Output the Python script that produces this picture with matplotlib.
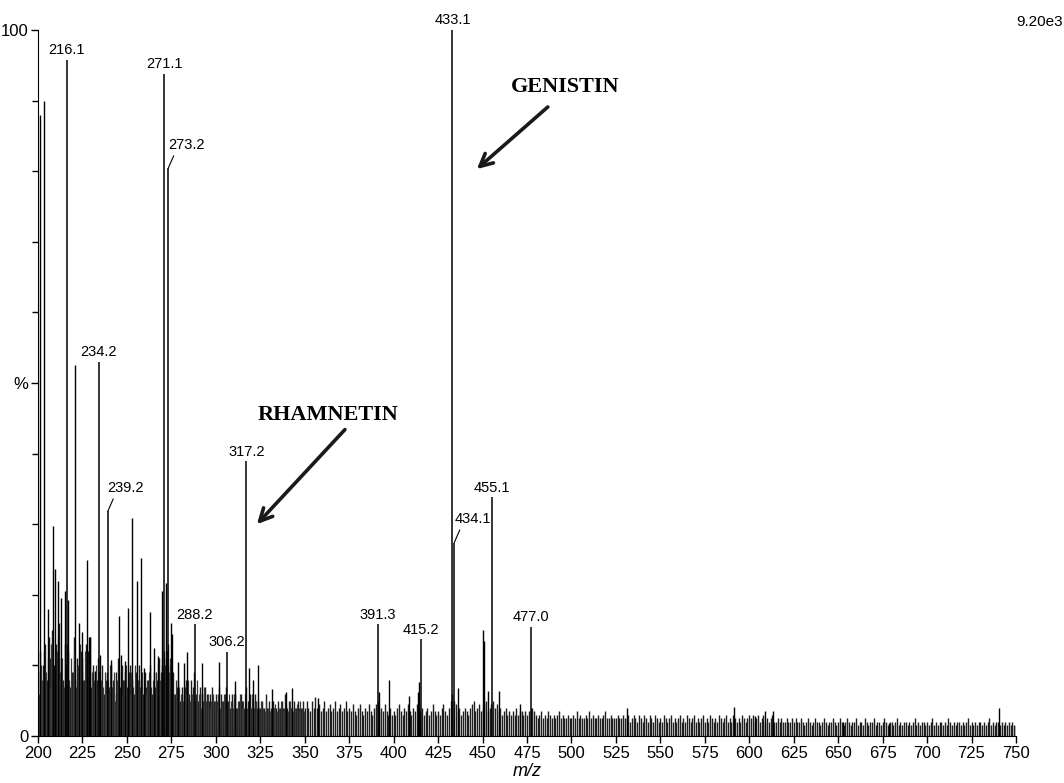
import matplotlib
matplotlib.use("Agg")
import matplotlib.pyplot as plt
import numpy as np

# labelled peaks (m/z, relative intensity %)
label_mz = [216.1, 234.2, 239.2, 271.1, 273.2, 288.2, 306.2, 317.2,
            391.3, 415.2, 433.1, 434.1, 455.1, 477.0]
label_int = [95.8, 53.0, 31.8, 93.8, 80.4, 15.8, 11.9, 38.9,
             15.8, 13.7, 100.0, 27.4, 33.8, 15.4]
# labels that sit beside the peak with a short leader line
leader_labels = ["239.2", "273.2", "434.1"]

# other visible peaks without labels
other_mz = [201.0, 203.3, 205.5, 208.6, 209.5, 211.2, 213.0, 215.0, 217.0,
            221.0, 223.0, 224.5, 227.6, 228.5, 229.5, 232.3, 235.0, 241.0,
            245.3, 246.5, 249.0, 250.8, 252.7, 255.6, 257.7, 259.5, 262.9,
            265.4, 267.6, 270.0, 272.0, 275.0, 275.6, 278.7, 282.0, 284.0,
            292.3, 302.0, 311.0, 318.5, 321.0, 324.0, 331.5, 339.5, 342.7,
            357.6, 392.0, 397.3, 408.5, 413.5, 414.5, 436.0, 450.1, 451.0,
            453.0, 459.2, 471.0, 531.0, 591.4, 603.4, 608.6, 613.3, 652.6,
            678.8, 740.6]
other_int = [88.0, 90.0, 18.0, 29.7, 23.6, 22.0, 19.6, 20.5, 19.3,
             52.6, 16.0, 14.8, 25.0, 14.0, 14.0, 9.2, 11.5, 10.8,
             17.0, 11.5, 10.6, 18.2, 30.9, 21.9, 25.2, 9.7, 17.5,
             12.5, 11.3, 20.5, 21.7, 16.0, 14.5, 10.5, 10.3, 11.9,
             10.3, 10.5, 7.8, 9.6, 7.9, 10.0, 6.6, 6.3, 6.8,
             5.4, 6.3, 8.0, 5.7, 6.2, 7.6, 6.8, 15.0, 13.5,
             6.4, 6.4, 4.6, 4.0, 4.1, 2.8, 3.6, 3.5, 2.0,
             1.9, 4.0]

# baseline "grass", one value per m/z unit from 200 to 750
noise_start = 200
noise_int = [
    9, 12, 7, 10, 13, 8, 14, 11, 15, 10, 13, 9, 16, 11, 8, 13, 10, 12, 7, 9, 14, 8, 11, 10, 12,
    11, 8, 13, 12, 14, 7, 10, 9, 8, 11, 7, 10, 6, 8, 9, 7, 10, 8, 6, 9, 11, 7, 10, 8, 9,
    7, 9, 10, 8, 6, 9, 7, 10, 8, 6, 9, 7, 8, 10, 6, 9, 7, 8, 11, 9, 10, 12, 11, 13, 10,
    8, 9, 6, 7, 8, 5, 7, 6, 8, 7, 6, 8, 7, 9, 6, 5, 7, 6, 5, 7, 6, 5, 6, 7, 5,
    6, 5, 7, 6, 5, 6, 7, 5, 4, 6, 5, 6, 4, 5, 6, 5, 4, 7, 5, 6, 4, 5, 6, 4, 5,
    4, 5, 4, 6, 4, 5, 4, 5, 4, 4, 5, 4, 5, 4, 6, 4, 5, 4, 4, 5, 4, 5, 4, 4, 5,
    4, 5, 4, 3.5, 5, 4, 5.5, 4, 4.5, 3.5, 4, 5, 3.5, 4, 4.5, 3.5, 4, 5, 3.5, 4, 4.5, 3.5, 4, 5, 3.5,
    4, 3.5, 4.5, 3.5, 3, 4, 4.5, 3.5, 3, 4, 3.5, 4.5, 3.5, 3, 4, 4.5, 5, 3.5, 4, 3.5, 4.5, 3.5, 3, 4, 3,
    3.5, 3, 4, 4.5, 3.5, 3, 4, 3.5, 4.5, 3.5, 3, 4, 3.5, 4.5, 5, 3.5, 4, 3, 3.5, 4, 3, 3.5, 4.5, 3.5, 3,
    3.5, 3, 4, 4.5, 3.5, 3, 4, 5, 6, 5, 4.5, 3.5, 4, 3, 3.5, 4, 3.5, 3, 4, 4.5, 5, 3.5, 4, 4.5, 3.5,
    4, 4.5, 5, 3.5, 4, 4.5, 5, 4, 4.5, 3.5, 4, 3, 3.5, 4, 3, 3.5, 3, 3.5, 3, 4, 3, 3.5, 3.5, 3, 3.5,
    3, 3.5, 4, 4, 3.5, 3, 2.5, 3, 3.5, 2.5, 3, 2.5, 3.5, 3, 2.5, 3, 2.5, 3, 3.5, 2.5, 3, 2.5, 2.5, 3, 2.5,
    2.5, 3, 2.5, 3.5, 2.5, 3, 2.5, 2.5, 3, 2.5, 3.5, 2.5, 3, 2.5, 2.5, 3, 2.5, 2.5, 3, 3.5, 2.5, 2.5, 3, 2.5, 2.5,
    2.5, 3, 2.5, 2.5, 3, 2.5, 2.5, 3, 2, 2.5, 3, 2.5, 2, 3, 2.5, 2, 3, 2.5, 2, 3, 2.5, 2, 3, 2.5, 2,
    2.5, 2, 3, 2.5, 2, 2.5, 3, 2, 2.5, 2, 2.5, 3, 2, 2.5, 2, 3, 2.5, 2, 2.5, 3, 2, 2.5, 2, 2.5, 3,
    2, 2.5, 2, 3, 2.5, 2, 2.5, 2, 3, 2.5, 2, 2.5, 3, 2, 2.5, 2, 3, 2.5, 2, 2.5, 2, 3, 2.5, 2, 2.5,
    3, 2.5, 3, 2, 2.5, 3, 2, 2.5, 3, 2, 2.5, 2, 2.5, 3, 2, 2, 2.5, 2, 2.5, 2, 2, 2.5, 2, 2, 2.5,
    2, 2.5, 2, 2, 2.5, 2, 1.5, 2, 2.5, 2, 1.5, 2, 2.5, 2, 2, 1.5, 2, 2.5, 2, 1.5, 2, 2, 2.5, 2, 1.5,
    2, 2.5, 2, 1.5, 2, 2.5, 2, 1.5, 2, 2, 2.5, 1.5, 2, 2, 1.5, 2.5, 2, 1.5, 2, 2, 2.5, 1.5, 2, 2, 1.5,
    2, 2.5, 2, 1.5, 2, 2, 1.5, 2, 2.5, 1.5, 2, 1.5, 2, 2, 1.5, 2, 1.5, 2, 2.5, 1.5, 2, 1.5, 2, 2, 1.5,
    2, 1.5, 2, 2.5, 1.5, 2, 1.5, 2, 2, 1.5, 2, 1.5, 2.5, 2, 1.5, 2, 1.5, 2, 2, 1.5, 2, 1.5, 2, 2.5, 1.5,
    2, 1.5, 2, 1.5, 2, 2, 1.5, 2, 1.5, 2, 2.5, 1.5, 2, 1.5, 2, 2, 1.5, 2, 1.5, 2, 1.5, 2, 1.5, 2, 1.5, 1.5,
]

# extra grass at the half-unit positions, 200.5 to 349.5 (dense low-mass region)
noise2_start = 200.5
noise2_int = [
    6, 10, 8, 12, 9, 11, 7, 13, 10, 8, 12, 14, 9, 11, 7, 10, 13, 8, 11, 9, 12, 7, 10, 13, 9,
    8, 12, 9, 11, 7, 9, 8, 10, 6, 9, 8, 7, 9, 6, 8, 10, 7, 9, 5, 8, 7, 9, 6, 8, 10,
    8, 6, 9, 7, 10, 6, 8, 7, 9, 7, 6, 8, 9, 7, 8, 6, 9, 10, 8, 11, 9, 10, 12, 9, 11,
    7, 6, 8, 5, 7, 6, 5, 7, 6, 8, 5, 6, 7, 5, 8, 6, 4, 6, 7, 5, 6, 4, 5, 6, 5,
    5, 6, 4, 5, 6, 4, 5, 6, 5, 4, 6, 4, 5, 6, 4, 5, 6, 4, 5, 4, 6, 4, 5, 5, 4,
    5, 4, 3.5, 5, 4, 3.5, 5, 4, 4.5, 3.5, 4, 5, 3.5, 4, 4.5, 3.5, 5, 4, 3.5, 4, 4.5, 3.5, 5, 4, 3.5,
]

x_ticks = [200, 225, 250, 275, 300, 325, 350, 375, 400, 425, 450, 475, 500,
           525, 550, 575, 600, 625, 650, 675, 700, 725, 750]
y_ticks = [0, 50, 100]
y_ticklabels = ["0", "%", "100"]

# compound annotations: (name, text position, arrow tail, arrow head) in data units
compounds = ["GENISTIN", "RHAMNETIN"]
compound_text = [(496.2, 91.9), (363.0, 45.5)]
compound_tail = [(486.7, 89.1), (372.6, 43.4)]
compound_head = [(446.8, 80.3), (323.1, 30.0)]

plt.rcParams["font.family"] = ["Liberation Sans", "DejaVu Sans"]

fig = plt.figure(figsize=(10.64, 7.83), dpi=100)
ax = fig.add_axes([38 / 1064, 47 / 783, 978 / 1064, 706 / 783])

noise_mz = noise_start + np.arange(len(noise_int))
noise2_mz = noise2_start + np.arange(len(noise2_int))
ax.vlines(noise_mz, 0, noise_int, color="#1e1e1e", lw=1.0)
ax.vlines(noise2_mz, 0, noise2_int, color="#3a3a3a", lw=0.9)
ax.vlines(other_mz, 0, other_int, color="black", lw=1.0)
ax.vlines(label_mz, 0, label_int, color="black", lw=1.1)

for mz, h in zip(label_mz, label_int):
    txt = f"{mz:.1f}"
    if txt in leader_labels:
        ax.annotate(txt, xy=(mz, h), xytext=(0, 12), textcoords="offset points",
                    ha="left", va="bottom", fontsize=10.5, annotation_clip=False,
                    arrowprops=dict(arrowstyle="-", lw=0.8, color="black",
                                    relpos=(0.2, 0.0), shrinkA=1, shrinkB=0))
    else:
        ax.annotate(txt, xy=(mz, h), xytext=(0, 2), textcoords="offset points",
                    ha="center", va="bottom", fontsize=10.5, annotation_clip=False)

for name, tpos, tail, head in zip(compounds, compound_text, compound_tail, compound_head):
    ax.text(tpos[0], tpos[1], name, ha="center", va="center", fontsize=16,
            fontweight="bold", family="Liberation Serif")
    ax.annotate("", xy=head, xytext=tail,
                arrowprops=dict(arrowstyle="->,head_length=0.9,head_width=0.45",
                                lw=2.6, color="#1a1a1a", shrinkA=0, shrinkB=0))

ax.set_xlim(200, 750)
ax.set_ylim(0, 100)
ax.set_xticks(x_ticks)
ax.set_yticks(y_ticks)
ax.set_yticklabels(y_ticklabels)
ax.set_yticks(np.arange(10, 100, 10), minor=True)
ax.tick_params(axis="both", which="major", direction="out", length=5, width=1,
               labelsize=12, pad=2)
ax.tick_params(axis="y", which="minor", direction="out", length=4, width=1)
ax.spines["top"].set_visible(False)
ax.spines["right"].set_visible(False)
ax.set_xlabel("m/z", style="italic", fontsize=13, labelpad=2)

fig.text(1040 / 1064, 1 - 22 / 783, "9.20e3", ha="center", va="center", fontsize=11)

fig.savefig("out.png", dpi=100)
